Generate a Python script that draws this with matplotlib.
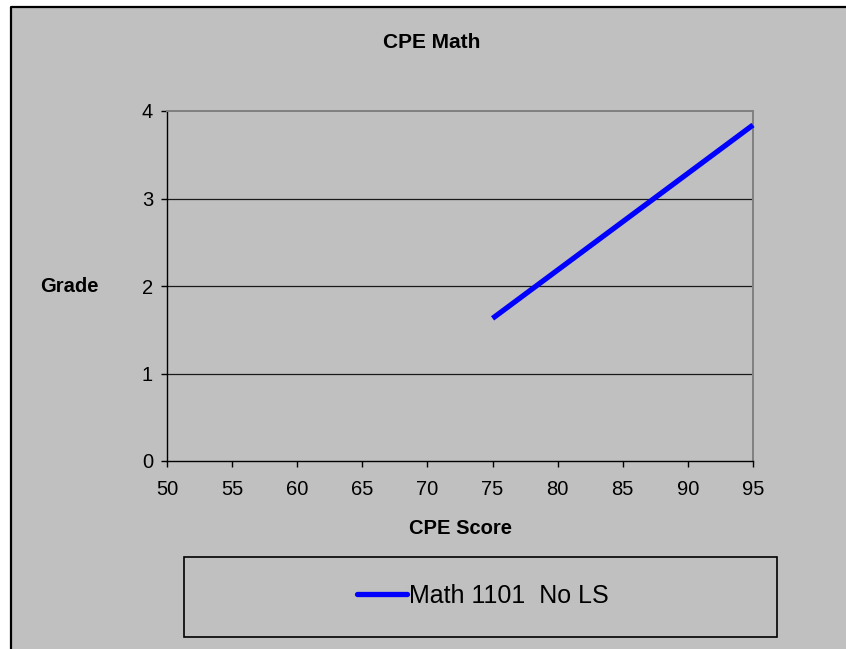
import matplotlib
matplotlib.use("Agg")
import matplotlib.pyplot as plt
from matplotlib.patches import Rectangle
from matplotlib.lines import Line2D

plt.rcParams['font.family'] = ['Liberation Sans', 'DejaVu Sans']

# Data
series_name = "Math 1101  No LS"
cpe_score = [75, 95]
grade = [1.63, 3.84]
x_ticks = [50, 55, 60, 65, 70, 75, 80, 85, 90, 95]
y_ticks = [0, 1, 2, 3, 4]

W, H = 846, 649
fig = plt.figure(figsize=(W / 100, H / 100), dpi=100, facecolor='white')

def fx(px):
    return px / W

def fy(py):
    return 1 - py / H

# gray chart area, black border on left and top only
bg = Rectangle((fx(11), 0), 1 - fx(11), fy(7),
               transform=fig.transFigure, facecolor='#c0c0c0',
               edgecolor='none', zorder=-5)
fig.patches.append(bg)
fig.lines.append(Line2D([fx(11), fx(11), 1.0], [0.0, fy(7), fy(7)],
                        transform=fig.transFigure, color='black',
                        linewidth=1.6, zorder=-4))

ax = fig.add_axes([fx(167), fy(461), fx(753) - fx(167), fy(111) - fy(461)])
ax.set_zorder(2)
ax.patch.set_alpha(0)

line, = ax.plot(cpe_score, grade, color='#0000ff', linewidth=3.8,
                solid_capstyle='butt', clip_on=False, zorder=3,
                label=series_name)

ax.set_xlim(50, 95)
ax.set_ylim(0, 4)
ax.set_xticks(x_ticks)
ax.set_yticks(y_ticks)
for yv in y_ticks[1:-1]:
    ax.axhline(yv, color='#1a1a1a', linewidth=0.9, zorder=1)

ax.spines['left'].set_color('black')
ax.spines['bottom'].set_color('black')
ax.spines['left'].set_linewidth(1.0)
ax.spines['bottom'].set_linewidth(1.0)
ax.spines['top'].set_color('#808080')
ax.spines['right'].set_color('#808080')
ax.spines['top'].set_linewidth(1.4)
ax.spines['right'].set_linewidth(1.4)

ax.tick_params(axis='x', direction='out', length=4, width=1, color='black',
               labelsize=14.5, pad=10)
ax.tick_params(axis='y', direction='out', length=4, width=1, color='black',
               labelsize=14.5, pad=6)

# Title and axis labels
fig.text(fx(432), fy(42), "CPE Math", ha='center', va='center',
         fontsize=15, fontweight='bold')
fig.text(fx(69), fy(287), "Grade", ha='center', va='center',
         fontsize=14.5, fontweight='bold')
fig.text(fx(460), fy(528), "CPE Score", ha='center', va='center',
         fontsize=14.5, fontweight='bold')

# Legend box
lbox = Rectangle((fx(184), fy(637)), fx(777) - fx(184), fy(557) - fy(637),
                 transform=fig.transFigure, facecolor='none',
                 edgecolor='black', linewidth=1.2, zorder=1)
fig.patches.append(lbox)

handle = Line2D([0], [0], color='#0000ff', linewidth=3.8, solid_capstyle='round')
leg = fig.legend([handle], [series_name], loc='center',
                 bbox_to_anchor=(fx(483), fy(596)), frameon=False,
                 fontsize=18, handlelength=2.0, handletextpad=0.1)
leg.set_zorder(3)

fig.savefig("out.png", dpi=100, facecolor='white')
